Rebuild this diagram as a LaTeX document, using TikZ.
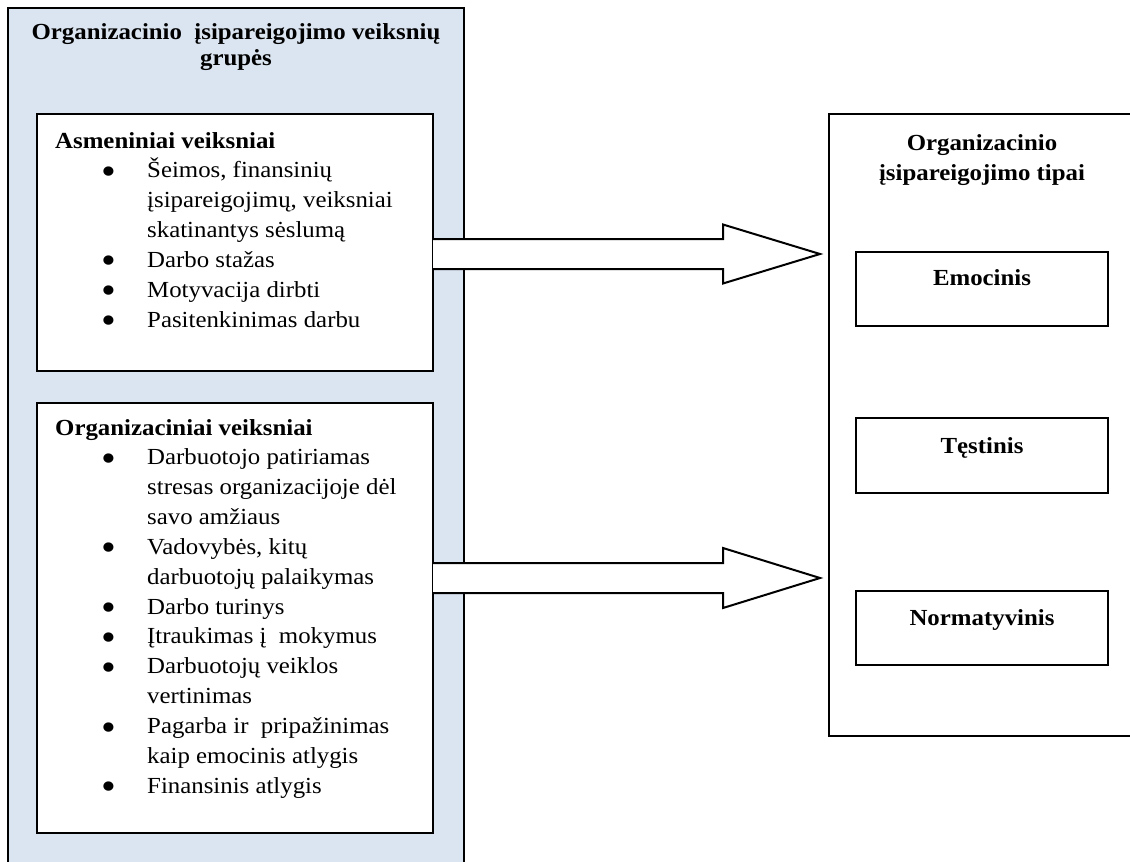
\documentclass[tikz,border=0pt]{standalone}
\usepackage{fontspec}
\setmainfont{Liberation Serif}[FakeStretch=1.08]
\usetikzlibrary{calc}
\definecolor{paleblue}{HTML}{DBE5F1}
\newcommand{\bdot}{\raisebox{-6.5pt}{\scalebox{1.7}{\textbullet}}}
\newcommand{\bitem}[1]{\hspace*{46pt}\makebox[46pt][l]{\bdot}#1}
\newcommand{\bcont}[1]{\hspace*{92pt}#1}
\begin{document}
\begin{tikzpicture}[x=1pt,y=-1pt,
  frame/.style={draw=black, line width=2pt, inner sep=0pt, outer sep=0pt, anchor=north west},
  body/.style={font=\fontsize{23}{29.85}\selectfont, align=left, inner sep=0pt, anchor=base west},
  ttl/.style={font=\fontsize{23}{30}\selectfont\bfseries, align=center, inner sep=0pt, anchor=base},
  bigarrow/.style={draw=black, fill=white, line width=2pt, line join=miter}]
\useasboundingbox (0,0) rectangle (1130,862);
\clip (0,0) rectangle (1130,862);
% left group
\node[frame, fill=paleblue, minimum width=456, minimum height=900] (lgrp) at (8,8) {};
\node[ttl, font=\fontsize{23}{26}\selectfont\bfseries] (ltitle) at (236,65) {Organizacinio~ įsipareigojimo veiksnių\\grupės};
\node[frame, fill=white, minimum width=396, minimum height=257] (b1) at (37,114) {};
\node[frame, fill=white, minimum width=396, minimum height=430] (b2) at (37,403) {};
\node[body] (b1text) at (55,327.1) {\textbf{Asmeniniai veiksniai}\\
\bitem{Šeimos, finansinių}\\
\bcont{įsipareigojimų, veiksniai}\\
\bcont{skatinantys sėslumą}\\
\bitem{Darbo stažas}\\
\bitem{Motyvacija dirbti}\\
\bitem{Pasitenkinimas darbu}};
\node[body] (b2text) at (55,793.2) {\textbf{Organizaciniai veiksniai}\\
\bitem{Darbuotojo patiriamas}\\
\bcont{stresas organizacijoje dėl}\\
\bcont{savo amžiaus}\\
\bitem{Vadovybės, kitų}\\
\bcont{darbuotojų palaikymas}\\
\bitem{Darbo turinys}\\
\bitem{Įtraukimas į~ mokymus}\\
\bitem{Darbuotojų veiklos}\\
\bcont{vertinimas}\\
\bitem{Pagarba ir~ pripažinimas}\\
\bcont{kaip emocinis atlygis}\\
\bitem{Finansinis atlygis}};
% right group
\node[frame, fill=white, minimum width=320, minimum height=622] (rgrp) at (829,114) {};
\node[ttl] (rtitle) at (982,180) {Organizacinio\\įsipareigojimo tipai};
\node[frame, fill=white, minimum width=252, minimum height=74] (emo) at (856,252) {};
\node[frame, fill=white, minimum width=252, minimum height=75] (tes) at (856,418) {};
\node[frame, fill=white, minimum width=252, minimum height=74] (nor) at (856,591) {};
\node[ttl] (emot) at ($(emo.north)+(0,33)$) {Emocinis};
\node[ttl] (test) at ($(tes.north)+(0,35)$) {Tęstinis};
\node[ttl] (nort) at ($(nor.north)+(0,34)$) {Normatyvinis};
% arrows
\coordinate (a1tail) at (b1.east |- 0,254);
\coordinate (a1tip) at (rgrp.west |- 0,254);
\coordinate (a2tail) at (b2.east |- 0,578);
\coordinate (a2tip) at (rgrp.west |- 0,578);
\draw[bigarrow] ($(a1tail)+(0,-15)$) -- ($(a1tip)+(-106,-15)$) -- ($(a1tip)+(-106,-29.5)$)
  -- ($(a1tip)+(-9,0)$) -- ($(a1tip)+(-106,29.5)$) -- ($(a1tip)+(-106,15)$) -- ($(a1tail)+(0,15)$);
\draw[bigarrow] ($(a2tail)+(0,-15)$) -- ($(a2tip)+(-106,-15)$) -- ($(a2tip)+(-106,-30)$)
  -- ($(a2tip)+(-9,0)$) -- ($(a2tip)+(-106,30)$) -- ($(a2tip)+(-106,15)$) -- ($(a2tail)+(0,15)$);
\end{tikzpicture}
\end{document}
